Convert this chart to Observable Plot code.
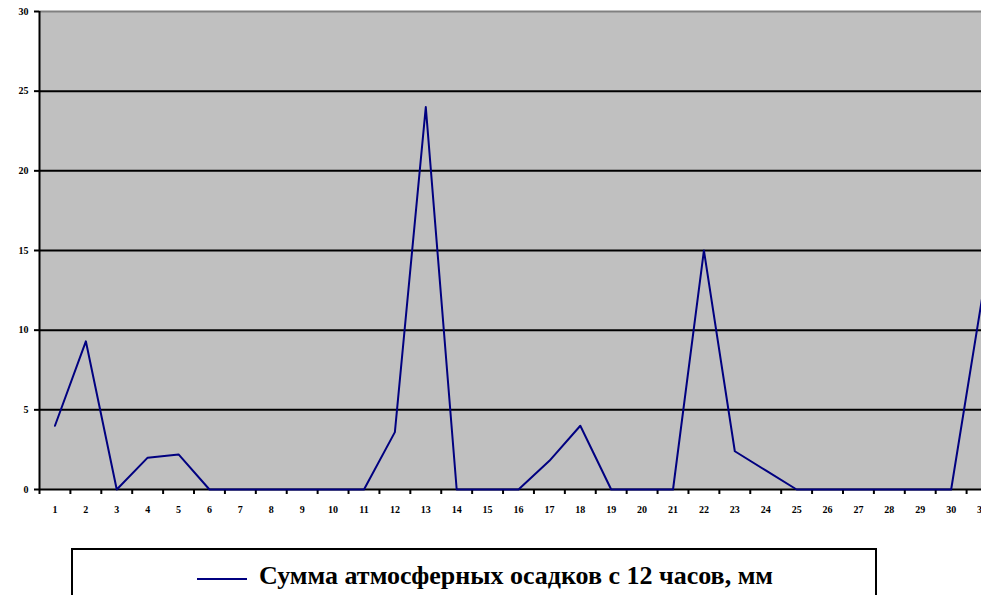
<!DOCTYPE html>
<html>
<head>
<meta charset="utf-8">
<script src="https://cdn.jsdelivr.net/npm/d3@7"></script>
<script src="https://cdn.jsdelivr.net/npm/@observablehq/plot@0.6"></script>
<style>
  html, body { margin: 0; padding: 0; background: #fff; overflow: hidden; width: 981px; height: 595px; }
  #chart { position: absolute; left: 0; top: 0; width: 1000px; }
  #chart svg { max-width: none !important; }
  #legend {
    position: absolute; left: 71px; top: 548px; width: 806px; height: 60px;
    border: 2px solid #000; box-sizing: border-box; background: #fff;
    font-family: "Liberation Serif", "Times New Roman", serif; font-weight: bold; font-size: 26px;
  }
  #legend .sw { position: absolute; left: 124px; top: 28px; width: 50px; height: 0; border-top: 2px solid #000080; }
  #legend .lbl { position: absolute; left: 186px; top: 11px; white-space: nowrap; color: #000; }
</style>
</head>
<body>
<div id="chart"></div>
<div id="legend"><span class="sw"></span><span class="lbl">Сумма атмосферных осадков с 12 часов, мм</span></div>
<script>
const days = d3.range(1, 32);
const precip = [4, 9.3, 0, 2, 2.2, 0, 0, 0, 0, 0, 0, 3.6, 24, 0, 0, 0, 1.8, 4, 0, 0, 0, 15, 2.4, 1.2, 0, 0, 0, 0, 0, 0, 12];
const yTicks = [0, 5, 10, 15, 20, 25, 30];
const seriesName = "Сумма атмосферных осадков с 12 часов, мм";

const data = days.map((d, i) => ({day: d, value: precip[i]}));
const bounds = days.map(d => d - 0.5).concat([days[days.length - 1] + 0.5]);

const chart = Plot.plot({
  width: 997,
  height: 530,
  marginLeft: 39,
  marginRight: 0,
  marginTop: 11,
  marginBottom: 41,
  style: {fontFamily: "'Liberation Serif', 'Times New Roman', serif", fontWeight: "bold", fontSize: "10px", color: "#000", background: "transparent", maxWidth: "none"},
  x: {domain: [0.5, 31.5]},
  y: {domain: [0, 30]},
  marks: [
    Plot.frame({fill: "#c0c0c0", stroke: null}),
    Plot.ruleY(yTicks.filter(v => v > 0 && v < 30), {stroke: "#000", strokeWidth: 2}),
    Plot.ruleY([30], {stroke: "#808080", strokeWidth: 2}),
    Plot.ruleY([0], {stroke: "#000", strokeWidth: 2}),
    Plot.ruleX([0.5], {stroke: "#000", strokeWidth: 2}),
    Plot.axisY({ticks: yTicks, tickSize: 5, tickPadding: 6, stroke: "#000", strokeWidth: 2, fill: "#000", label: null, fontWeight: "bold", fontSize: 10}),
    Plot.axisX({ticks: bounds, tickSize: 5, tickFormat: () => "", stroke: "#000", strokeWidth: 2, label: null}),
    Plot.axisX({ticks: days, tickSize: 0, tickPadding: 16, fill: "#000", label: null, fontWeight: "bold", fontSize: 10}),
    Plot.line(data, {x: "day", y: "value", stroke: "#000080", strokeWidth: 2, title: () => seriesName})
  ]
});
document.getElementById("chart").appendChild(chart);
</script>
</body>
</html>
